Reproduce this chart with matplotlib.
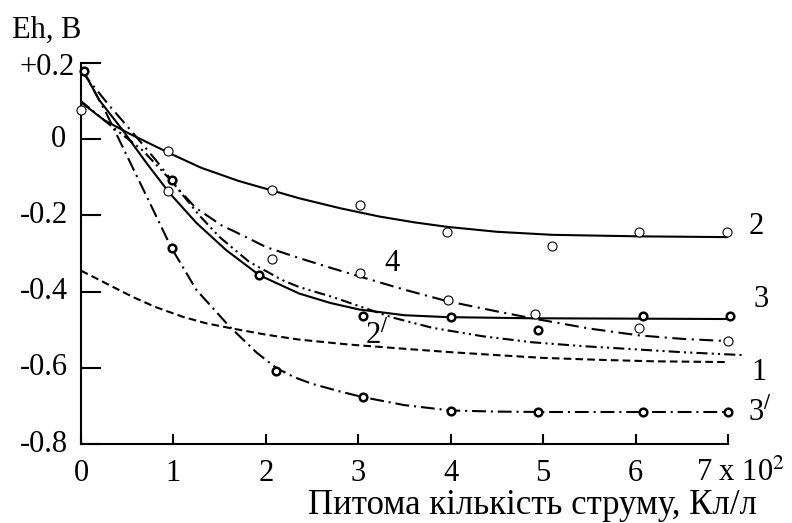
import numpy as np
import matplotlib
matplotlib.use('Agg')
import matplotlib.pyplot as plt
import matplotlib.transforms as mtransforms

plt.rcParams['font.family'] = ['Liberation Serif', 'DejaVu Serif']
plt.rcParams['mathtext.fontset'] = 'stix'
plt.rcParams['lines.scale_dashes'] = False

# curve lines
c2_x = [0, 0.25, 0.52, 0.96, 1.3, 1.71, 2.0, 2.36, 2.8, 3.23, 3.6, 3.96, 4.5, 5.1, 6.04, 7.0]
c2_y = [0.097, 0.05, 0.015, -0.037, -0.075, -0.11, -0.13, -0.155, -0.181, -0.203, -0.218, -0.23, -0.243, -0.251, -0.255, -0.257]

c3_x = [0, 0.2, 0.45, 0.71, 0.96, 1.25, 1.57, 1.93, 2.36, 2.7, 3.01, 3.5, 3.96, 4.88, 6.0, 7.0]
c3_y = [0.19, 0.102, 0.024, -0.063, -0.142, -0.22, -0.291, -0.357, -0.405, -0.43, -0.447, -0.462, -0.467, -0.47, -0.471, -0.472]

c4_x = [0, 0.3, 0.55, 0.81, 1.05, 1.24, 1.52, 1.77, 2.0, 2.36, 2.72, 3.08, 3.5, 3.96, 4.5, 4.88, 5.5, 6.04, 6.5, 7.0]
c4_y = [0.18, 0.09, 0.02, -0.055, -0.13, -0.18, -0.226, -0.255, -0.283, -0.312, -0.339, -0.365, -0.395, -0.425, -0.452, -0.47, -0.497, -0.515, -0.524, -0.53]

c2p_x = [0, 0.3, 0.67, 0.98, 1.28, 1.5, 1.82, 2.18, 2.36, 2.72, 3.08, 3.37, 3.8, 4.34, 4.88, 5.42, 5.96, 6.5, 7.19]
c2p_y = [0.1, 0.04, -0.03, -0.11, -0.2, -0.257, -0.322, -0.37, -0.388, -0.414, -0.444, -0.468, -0.495, -0.517, -0.533, -0.543, -0.551, -0.559, -0.567]

c1_x = [0, 0.3, 0.56, 0.8, 1.1, 1.35, 1.64, 2.0, 2.36, 2.9, 3.44, 4.0, 4.52, 5.0, 5.6, 6.2, 7.0]
c1_y = [-0.345, -0.382, -0.414, -0.44, -0.466, -0.483, -0.497, -0.513, -0.526, -0.539, -0.549, -0.559, -0.567, -0.574, -0.579, -0.583, -0.585]

c3p_x = [0, 0.27, 0.45, 0.71, 0.98, 1.25, 1.6, 1.9, 2.11, 2.31, 2.5, 2.8, 3.05, 3.5, 4.0, 4.5, 5.0, 6.0, 7.0]
c3p_y = [0.19, 0.07, -0.02, -0.15, -0.286, -0.396, -0.49, -0.56, -0.6, -0.625, -0.642, -0.662, -0.677, -0.698, -0.712, -0.715, -0.716, -0.716, -0.716]

# measured points
m2_x = [0, 0.94, 2.07, 3.02, 3.96, 5.1, 6.04, 6.99]
m2_y = [0.076, -0.031, -0.134, -0.173, -0.244, -0.281, -0.244, -0.244]
m4_x = [0.94, 2.07, 3.02, 3.97, 4.91, 6.04, 7.0]
m4_y = [-0.137, -0.315, -0.352, -0.423, -0.459, -0.496, -0.53]
m3_x = [0.03, 1.93, 3.05, 4.0, 6.08, 7.02]
m3_y = [0.178, -0.357, -0.465, -0.467, -0.465, -0.465]
m2p_x = [0.98, 4.94]
m2p_y = [-0.108, -0.5]
m3p_x = [0.98, 2.11, 3.05, 4.0, 4.94, 6.08, 7.0]
m3p_y = [-0.286, -0.609, -0.677, -0.714, -0.717, -0.715, -0.715]

x_ticks = [0, 1, 2, 3, 4, 5, 6, 7]
y_ticks = [0.2, 0, -0.2, -0.4, -0.6, -0.8]
y_labels = ['+0.2', '0', '-0.2', '-0.4', '-0.6', '-0.8']

fig = plt.figure(figsize=(7.92, 5.23), dpi=100)
ax = fig.add_axes([81/792, 79/523, 647/792, 381/523])

lw = 1.5
ax.plot(c2_x, c2_y, color='black', lw=lw)
ax.plot(c3_x, c3_y, color='black', lw=lw)
ax.plot(c4_x, c4_y, color='black', lw=lw, linestyle=(0, (10, 4, 1.5, 4)))
ax.plot(c2p_x, c2p_y, color='black', lw=lw, linestyle=(0, (8, 3, 1.5, 3, 1.5, 3)), clip_on=False)
ax.plot(c1_x, c1_y, color='black', lw=lw, linestyle=(0, (5.5, 3)))
ax.plot(c3p_x, c3p_y, color='black', lw=lw, linestyle=(0, (10, 3.5, 1.5, 3.5)))

thin = dict(linestyle='none', marker='o', ms=6.5, mfc='white', mec='black', mew=0.8, zorder=5, clip_on=False)
bold = dict(linestyle='none', marker='o', ms=5.5, mfc='white', mec='black', mew=1.8, zorder=5, clip_on=False)
ax.plot(m2_x, m2_y, **thin)
ax.plot(m4_x, m4_y, **thin)
ax.plot(m3_x, m3_y, **bold)
ax.plot(m2p_x, m2p_y, **bold)
ax.plot(m3p_x, m3p_y, **bold)

ax.set_xlim(0, 7)
ax.set_ylim(-0.8, 0.2)
for s in ['top', 'right']:
    ax.spines[s].set_visible(False)
for s in ['left', 'bottom']:
    ax.spines[s].set_linewidth(1.5)

fs = 22
ax.set_xticks(x_ticks)
ax.set_xticklabels([str(v) for v in x_ticks[:-1]] + [''], fontsize=fs)
ax.set_yticks(y_ticks)
ax.tick_params(axis='x', direction='in', length=7.5, width=1.5, pad=11)
ax.tick_params(axis='y', direction='in', length=14.5, width=1.5, labelleft=False)

tr = mtransforms.blended_transform_factory(fig.transFigure, ax.transData)
for v, lab in zip(y_ticks, y_labels):
    xr = 68/792
    yo = 0
    if lab == '+0.2':
        xr = 75/792
        yo = -0.012
    elif lab == '0':
        xr = 66/792
    ax.text(xr, v + yo, lab, transform=tr, ha='right', va='center', fontsize=fs)

ax.text(7.13, -0.8, '7 x 10$^2$', fontsize=fs, ha='center', va='top',
        transform=ax.transData + mtransforms.ScaledTranslation(0, -11/72, fig.dpi_scale_trans))

fig.text(12/792, 1 - 38/523, 'Eh, B', fontsize=fs, ha='left', va='baseline')
fig.text(533/792, 1 - 514/523, 'Питома кількість струму, Кл/л', fontsize=25, ha='center', va='baseline')

ax.text(7.22, -0.228, '2', fontsize=fs, ha='left', va='center')
ax.text(3.28, -0.325, '4', fontsize=fs, ha='left', va='center')
ax.text(7.28, -0.42, '3', fontsize=fs, ha='left', va='center')
ax.text(3.2, -0.514, '2$^{/}$', fontsize=fs, ha='center', va='center')
ax.text(7.25, -0.612, '1', fontsize=fs, ha='left', va='center')
ax.text(7.22, -0.716, '3$^{/}$', fontsize=fs, ha='left', va='center')

fig.savefig('out.png', dpi=100)
